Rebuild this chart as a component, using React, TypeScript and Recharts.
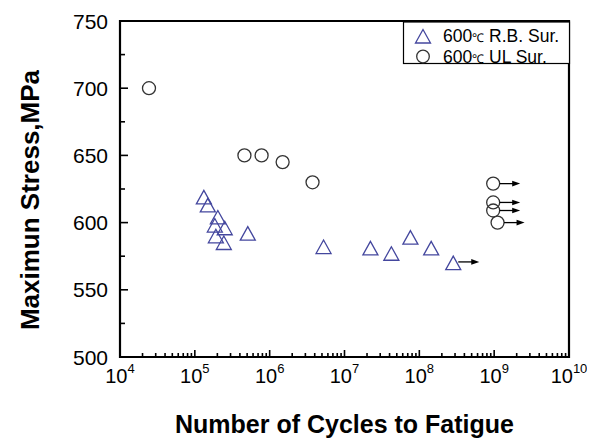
import React from 'react';
import { ScatterChart, Scatter, XAxis, YAxis, Legend, ReferenceArea } from 'recharts';

// R.B. surface specimens (triangles)
const rbCycles = [1.32e5, 1.49e5, 2.03e5, 1.85e5, 2.51e5, 1.91e5, 2.44e5, 5.1e5, 5.25e6, 2.22e7, 4.23e7, 7.6e7, 1.44e8, 2.84e8];
const rbStress = [619, 613, 604, 598, 596, 590, 585, 592, 582, 581, 577, 589, 581, 570];
const rbRunout = [false, false, false, false, false, false, false, false, false, false, false, false, false, true];

// UL surface specimens (circles)
const ulCycles = [2.44e4, 4.6e5, 7.8e5, 1.49e6, 3.74e6, 9.7e8, 9.7e8, 9.7e8, 1.11e9];
const ulStress = [700, 650, 650, 645, 630, 629, 615, 609, 600];
const ulRunout = [false, false, false, false, false, true, true, true, true];

const xMajorTicks = [1e4, 1e5, 1e6, 1e7, 1e8, 1e9, 1e10];
const xMinorMultipliers = [2, 3, 4, 5, 6, 7, 8, 9];
const yTicks = [500, 525, 550, 575, 600, 625, 650, 675, 700, 725, 750];
const xDomain = [1e4, 1e10];
const yDomain = [500, 750];
const legendLabels = ['600', 'R.B. Sur.', 'UL Sur.'];
const xTitle = 'Number of Cycles to Fatigue';
const yTitle = 'Maximun Stress,MPa';

const FONT = '"Liberation Sans", Arial, Helvetica, sans-serif';
const TRI_COLOR = '#44479e';
const CIRC_COLOR = '#333333';

const rbData = rbCycles.map((c, i) => ({ cycles: c, stress: rbStress[i], runout: rbRunout[i] }));
const ulData = ulCycles.map((c, i) => ({ cycles: c, stress: ulStress[i], runout: ulRunout[i] }));

const xTicks: number[] = [];
xMajorTicks.forEach((m, i) => {
  xTicks.push(m);
  if (i < xMajorTicks.length - 1) xMinorMultipliers.forEach((k) => xTicks.push(m * k));
});

const Arrow = ({ x1, x2, y }: { x1: number; x2: number; y: number }) => (
  <g>
    <line x1={x1} x2={x2 - 5} y1={y} y2={y} stroke="#000" strokeWidth={1.3} />
    <polygon points={`${x2 - 8},${y - 2.8} ${x2},${y} ${x2 - 8},${y + 2.8}`} fill="#000" />
  </g>
);

const TriangleShape = (props: any) => {
  const { cx, cy, payload } = props;
  const w = 15;
  const h = 13.5;
  return (
    <g>
      <polygon
        points={`${cx},${cy - h / 2} ${cx - w / 2},${cy + h / 2} ${cx + w / 2},${cy + h / 2}`}
        fill="none"
        stroke={TRI_COLOR}
        strokeWidth={1.3}
      />
      {payload && payload.runout && <Arrow x1={cx + 5} x2={cx + 26} y={cy - 1} />}
    </g>
  );
};

const CircleShape = (props: any) => {
  const { cx, cy, payload } = props;
  return (
    <g>
      <circle cx={cx} cy={cy} r={6.5} fill="none" stroke={CIRC_COLOR} strokeWidth={1.3} />
      {payload && payload.runout && <Arrow x1={cx + 6.5} x2={cx + 27} y={cy} />}
    </g>
  );
};

const XTick = (props: any) => {
  const { x, y, payload } = props;
  const v = payload.value;
  const e = Math.log10(v);
  const isMajor = Math.abs(e - Math.round(e)) < 1e-6;
  return (
    <g>
      <path d={`M${x},${y}V${y - (isMajor ? 7 : 4)}`} stroke="#000" strokeWidth={1.6} fill="none" />
      {isMajor && (
        <text x={x} y={y + 26} textAnchor="middle" fontFamily={FONT} fontSize={20} fill="#000">
          <tspan>10</tspan>
          <tspan dy={-10} fontSize={13}>{Math.round(e)}</tspan>
        </text>
      )}
    </g>
  );
};

const YTick = (props: any) => {
  const { x, y, payload } = props;
  const v = payload.value;
  const isMajor = v % 50 === 0;
  return (
    <g>
      <path d={`M${x},${y}H${x + (isMajor ? 8 : 5)}`} stroke="#000" strokeWidth={1.6} fill="none" />
      {isMajor && (
        <text x={x - 12} y={y + 7.5} textAnchor="end" fontFamily={FONT} fontSize={21} fill="#000">
          {v}
        </text>
      )}
    </g>
  );
};

const XTitle = (props: any) => {
  const { viewBox } = props;
  return (
    <text
      x={viewBox.x + viewBox.width / 2}
      y={viewBox.y + 76}
      textAnchor="middle"
      fontFamily={FONT}
      fontWeight="bold"
      fontSize={25}
      fill="#000"
    >
      {xTitle}
    </text>
  );
};

const YTitle = (props: any) => {
  const { viewBox } = props;
  const cx = 31;
  const cy = viewBox.y + viewBox.height / 2 + 11;
  return (
    <text
      x={cx}
      y={cy}
      transform={`rotate(-90 ${cx} ${cy})`}
      textAnchor="middle"
      fontFamily={FONT}
      fontWeight="bold"
      fontSize={26}
      fill="#000"
    >
      {yTitle}
    </text>
  );
};

const LegendBox = () => (
  <svg width={165} height={50} style={{ display: 'block', overflow: 'visible' }}>
    <rect x={0.5} y={0} width={166} height={41.5} fill="#fff" stroke="#000" strokeWidth={1.2} />
    <polygon points="20,7.5 12.5,21 27.5,21" fill="none" stroke={TRI_COLOR} strokeWidth={1.3} />
    <text x={40} y={20} fontFamily={FONT} fontSize={17.5} fill="#000">
      {legendLabels[0]}
      <tspan fontSize={12}>℃</tspan> {legendLabels[1]}
    </text>
    <circle cx={20} cy={34.5} r={6.3} fill="none" stroke={CIRC_COLOR} strokeWidth={1.3} />
    <text x={40} y={40.5} fontFamily={FONT} fontSize={17.5} fill="#000">
      {legendLabels[0]}
      <tspan fontSize={12}>℃</tspan> {legendLabels[2]}
    </text>
  </svg>
);

export default function App() {
  return (
    <ScatterChart width={587} height={431} margin={{ top: 13, right: 26, left: 0, bottom: 0 }}>
      <XAxis
        dataKey="cycles"
        type="number"
        scale="log"
        domain={xDomain}
        ticks={xTicks}
        interval={0}
        allowDataOverflow
        height={82}
        tickSize={0}
        tickMargin={0}
        tickLine={false}
        tick={<XTick />}
        axisLine={false}
        label={<XTitle />}
      />
      <YAxis
        dataKey="stress"
        type="number"
        domain={yDomain}
        ticks={yTicks}
        interval={0}
        allowDataOverflow
        width={112}
        tickSize={0}
        tickMargin={0}
        tickLine={false}
        tick={<YTick />}
        axisLine={false}
        label={<YTitle />}
      />
      <ReferenceArea
        x1={xDomain[0]}
        x2={xDomain[1]}
        y1={yDomain[0]}
        y2={yDomain[1]}
        fill="none"
        stroke="#000"
        strokeWidth={2.2}
        ifOverflow="visible"
      />
      <Legend
        layout="horizontal"
        verticalAlign="middle"
        align="center"
        content={<LegendBox />}
        wrapperStyle={{ position: 'absolute', left: 395, top: 14, width: 165, height: 42 }}
      />
      <Scatter name="600℃ R.B. Sur." data={rbData} shape={<TriangleShape />} isAnimationActive={false} />
      <Scatter name="600℃ UL Sur." data={ulData} shape={<CircleShape />} isAnimationActive={false} />
    </ScatterChart>
  );
}
